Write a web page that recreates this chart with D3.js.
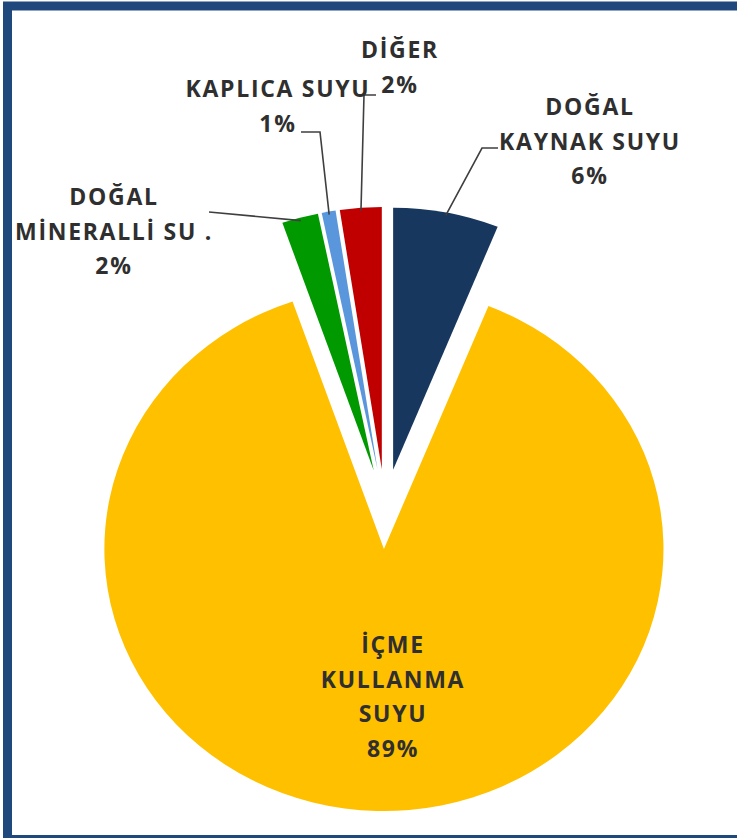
<!DOCTYPE html>
<html>
<head>
<meta charset="utf-8">
<script src="https://cdn.jsdelivr.net/npm/d3@7"></script>
<style>
  body { margin: 0; background: #fff; }
  svg { display: block; }
  .lbl { font-family: "Open Sans", Lato, sans-serif; font-weight: bold; font-size: 23px; letter-spacing: 1.7px; fill: #2f2f2f; }
</style>
</head>
<body>
<div id="chart"></div>
<script>
// Slices, clockwise from 12 o'clock
const categories = ["DOĞAL KAYNAK SUYU", "İÇME KULLANMA SUYU", "DOĞAL MİNERALLİ SU", "KAPLICA SUYU", "DİĞER"];
const values = [6.1, 88.6, 2.1, 0.8, 2.4];
// how each label breaks into lines (percent line is added below)
const labelLines = [
  ["DOĞAL", "KAYNAK SUYU"],
  ["İÇME", "KULLANMA", "SUYU"],
  ["DOĞAL", "MİNERALLİ SU ."],
  ["KAPLICA SUYU"],
  ["DİĞER"]
];
const colors = ["#17375E", "#FFC000", "#009A00", "#5A96DC", "#C00000"];

// layout
const width = 737, height = 838;
const cx = 385, cy = 509;
const radius = 262;
const stretchX = 1.067;   // the original picture is slightly wider than tall
const explode = 40;
const lineStep = 34.5;

// label anchor (center x, first baseline) and leader line elbow/end
const labelPos = [
  { x: 590, y: 115, leader: [[482, 148], [498, 148]] },
  { x: 393, y: 653, leader: null },
  { x: 114, y: 205, leader: [[209, 212], [209, 212]] },
  { x: 278, y: 97, leader: [[320, 132], [301, 132]] },
  { x: 400, y: 58, leader: [[364, 95], [376, 95]] }
];

const svg = d3.select("#chart").append("svg")
  .attr("width", width)
  .attr("height", height);

// frame
svg.append("rect")
  .attr("x", 7.5)
  .attr("y", 6)
  .attr("width", 800)
  .attr("height", 833.5)
  .attr("fill", "none")
  .attr("stroke", "#1F497D")
  .attr("stroke-width", 9);

const pie = d3.pie().sort(null).value(d => d)(values);
const arc = d3.arc().innerRadius(0).outerRadius(radius);

const mid = d => (d.startAngle + d.endAngle) / 2;
const offset = d => [explode * Math.sin(mid(d)), -explode * Math.cos(mid(d))];

const pieG = svg.append("g")
  .attr("transform", `translate(${cx},${cy}) scale(${stretchX},1)`);

pieG.selectAll("path")
  .data(pie)
  .enter()
  .append("path")
  .attr("transform", d => `translate(${offset(d)})`)
  .attr("d", arc)
  .attr("fill", (_, i) => colors[i]);

// leader lines start at the middle of each slice's outer arc
const toScreen = (d, r) => {
  const [ox, oy] = offset(d);
  return [cx + stretchX * (ox + r * Math.sin(mid(d))), cy + oy - r * Math.cos(mid(d))];
};

svg.selectAll("polyline.leader")
  .data(pie.filter((_, i) => labelPos[i].leader))
  .enter()
  .append("polyline")
  .attr("class", "leader")
  .attr("points", d => [toScreen(d, radius - 3)].concat(labelPos[d.index].leader).join(" "))
  .attr("fill", "none")
  .attr("stroke", "#3f3f3f")
  .attr("stroke-width", 1.6);

// labels
const labels = svg.selectAll("text.lbl")
  .data(pie)
  .enter()
  .append("text")
  .attr("class", "lbl")
  .attr("text-anchor", "middle");

labels.each(function (d, i) {
  const lines = labelLines[i].concat([Math.round(values[i]) + "%"]);
  d3.select(this).selectAll("tspan")
    .data(lines)
    .enter()
    .append("tspan")
    .attr("x", labelPos[i].x)
    .attr("y", (_, j) => labelPos[i].y + j * lineStep)
    .text(t => t);
});
</script>
</body>
</html>
